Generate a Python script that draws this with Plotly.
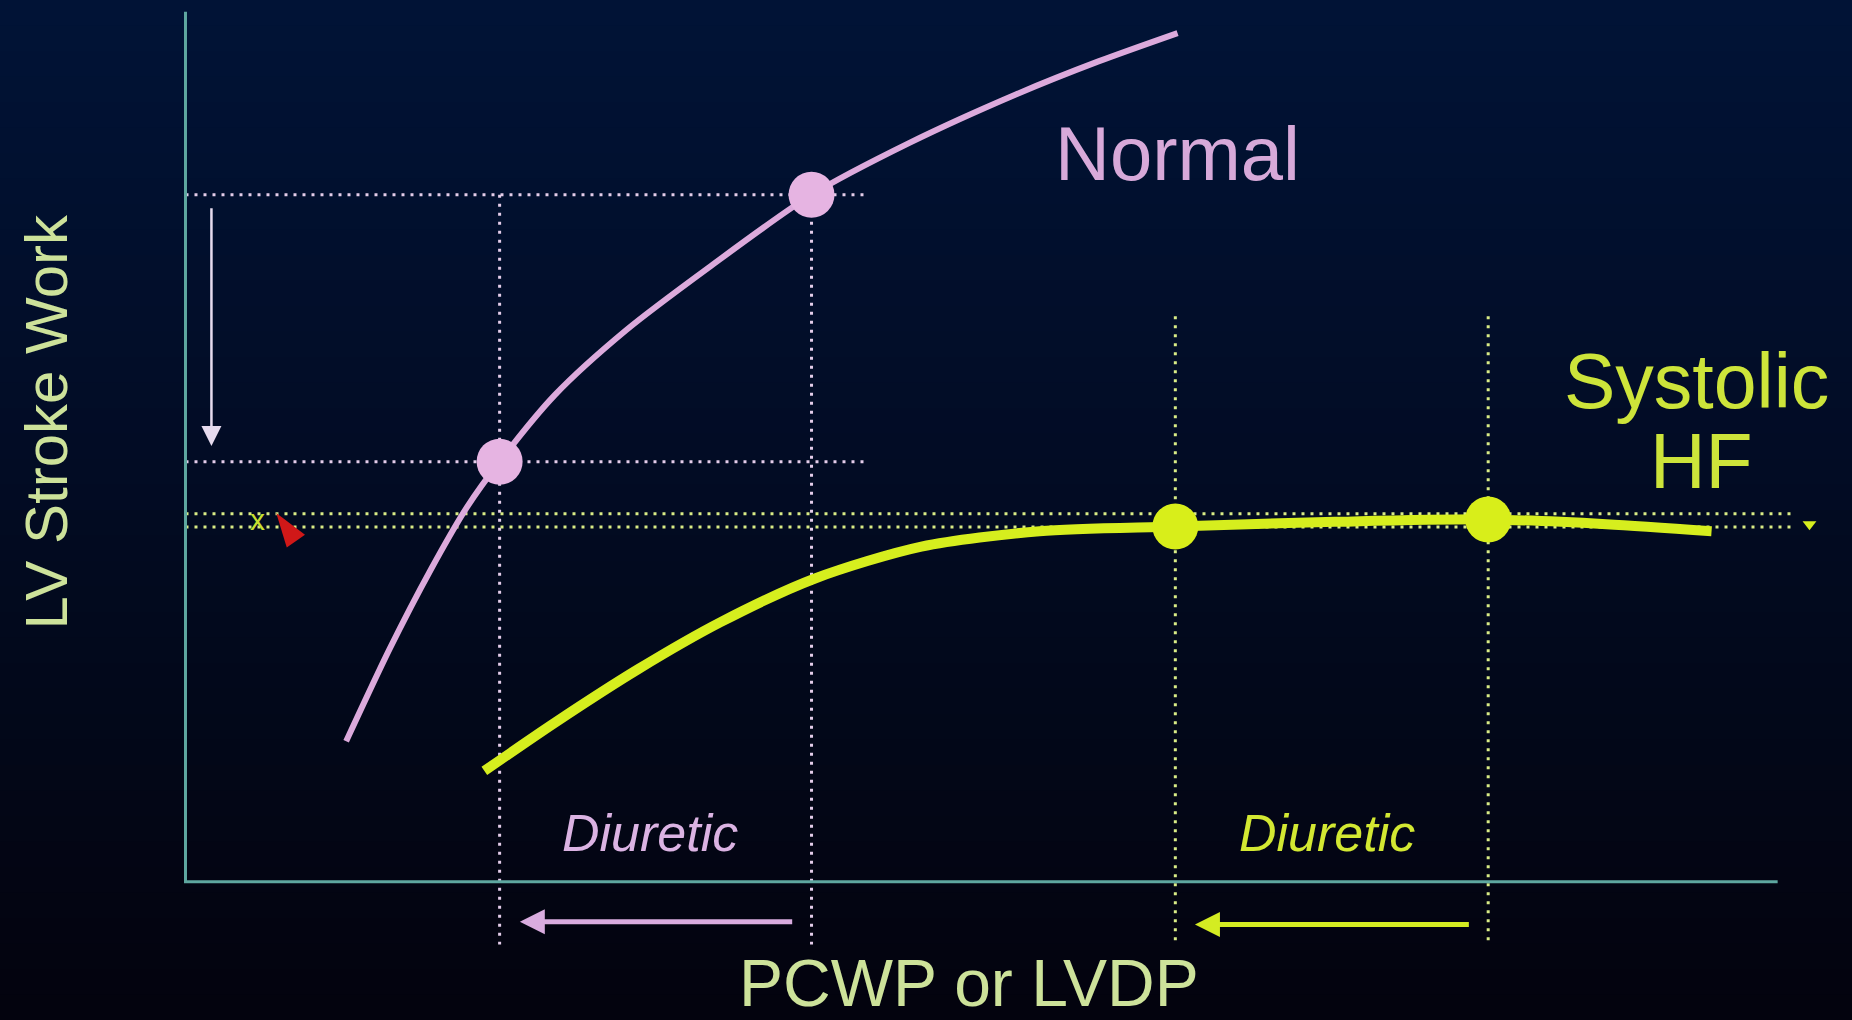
import plotly.graph_objects as go

# ---- Data (arbitrary units: x = PCWP/LVDP, y = LV stroke work) ----
normal_x = [10.09, 12.83, 15.43, 17.66, 19.73, 23.22, 27.67, 32.86, 39.32, 45.47, 52.15, 57.34, 62.31]
normal_y = [16.15, 26.80, 35.96, 43.01, 48.30, 56.00, 63.40, 70.60, 78.97, 84.94, 90.50, 94.30, 97.56]
normal_pts_x = [19.73, 39.32]
normal_pts_y = [48.30, 78.97]

hf_x = [18.77, 23.22, 28.41, 33.61, 39.54, 46.22, 53.64, 62.17, 72.18, 81.82, 89.24, 95.85]
hf_y = [12.75, 18.32, 24.42, 29.85, 34.87, 38.53, 40.30, 40.84, 41.38, 41.66, 41.11, 40.30]
hf_pts_x = [62.17, 81.82]
hf_pts_y = [40.84, 41.66]

ref_levels_normal = [78.97, 48.30]
ref_levels_hf = [42.3, 40.8]

labels = {"normal": "Normal", "hf1": "Systolic", "hf2": "HF",
          "xlab": "PCWP or LVDP", "ylab": "LV Stroke Work", "diu": "Diuretic"}

PINK = "#dcaadc"
PINK_DOT = "#e4cdea"
YEL = "#d6ee1e"
YEL_DOT = "#d9ec86"
AXIS = "#5ea7a0"
LABEL = "#cde29a"

fig = go.Figure()

# background vertical gradient
n = 40
top = (1, 19, 54)
bot = (3, 3, 14)
shapes = []
for i in range(n):
    t = i / (n - 1)
    c = tuple(int(round(top[k] + (bot[k] - top[k]) * t)) for k in range(3))
    shapes.append(dict(type="rect", xref="paper", yref="paper",
                       x0=0, x1=1, y1=1 - i / n, y0=1 - (i + 1) / n - 0.002,
                       fillcolor=f"rgb{c}", line=dict(width=0), layer="below"))

def line(xs, ys, color, width, dash=None, shape="linear"):
    fig.add_trace(go.Scatter(x=xs, y=ys, mode="lines", hoverinfo="skip",
                             line=dict(color=color, width=width, dash=dash,
                                       shape=shape, smoothing=0.8),
                             showlegend=False))

DOT = "3px,6px"
# horizontal reference lines (normal)
for yv in ref_levels_normal:
    line([0, 42.9], [yv, yv], PINK_DOT, 3, DOT)
# vertical reference lines (normal)
for xv in normal_pts_x:
    line([xv, xv], [78.97, -7.2], PINK_DOT, 3, DOT)
# horizontal reference lines (HF)
for yv in ref_levels_hf:
    line([0, 101.1], [yv, yv], YEL_DOT, 3, DOT)
# vertical reference lines (HF)
for xv in hf_pts_x:
    line([xv, xv], [65.0, -7.2], YEL_DOT, 3, DOT)

# axes
line([0, 0, 100], [100, 0, 0], AXIS, 3)

# curves
line(normal_x, normal_y, PINK, 6, shape="spline")
line(hf_x, hf_y, YEL, 10, shape="spline")

fig.add_trace(go.Scatter(x=normal_pts_x, y=normal_pts_y, mode="markers",
                         marker=dict(size=46, color="#e6b4e2"), hoverinfo="skip",
                         showlegend=False))
fig.add_trace(go.Scatter(x=hf_pts_x, y=hf_pts_y, mode="markers",
                         marker=dict(size=46, color="#d8ee1a"), hoverinfo="skip",
                         showlegend=False))
# small triangle at end of dotted line
fig.add_trace(go.Scatter(x=[102.0], y=[41.1], mode="markers",
                         marker=dict(size=12, symbol="triangle-down", color=YEL),
                         hoverinfo="skip", showlegend=False))
# pointer artefact
fig.add_trace(go.Scatter(x=[5.7], y=[42.4], mode="markers",
                         marker=dict(size=36, symbol="arrow", angle=-35, color="#d01818"),
                         hoverinfo="skip", showlegend=False))

ann = []
def text(x, y, s, size, color, italic=False):
    ann.append(dict(x=x, y=y, xref="x", yref="y", text=s, showarrow=False,
                    font=dict(family="Liberation Sans, Arial", size=size, color=color,
                              style="italic" if italic else "normal"),
                    xanchor="center", yanchor="middle"))

text(62.3, 83.7, labels["normal"], 76, "#d7a9d9")
text(94.9, 57.6, labels["hf1"], 77, "#cde43a")
text(95.2, 48.4, labels["hf2"], 77, "#cde43a")
text(49.2, -11.6, labels["xlab"], 66, LABEL)
text(29.2, 5.6, labels["diu"], 52, "#dbb3e3", True)
text(71.7, 5.6, labels["diu"], 52, "#d3e832", True)
text(4.5, 41.6, "x", 30, "#c8e030")
ann.append(dict(x=-8.7, y=52.9, xref="x", yref="y", text=labels["ylab"],
                showarrow=False, textangle=-90,
                font=dict(family="Liberation Sans, Arial", size=60, color=LABEL),
                xanchor="center", yanchor="middle"))

def arrow(x0, y0, x1, y1, color, width, size):
    ann.append(dict(x=x1, y=y1, ax=x0, ay=y0, xref="x", yref="y",
                    axref="x", ayref="y", text="", showarrow=True,
                    arrowhead=2, arrowsize=size, arrowwidth=width,
                    arrowcolor=color))

arrow(1.63, 77.6, 1.63, 50.1, "#e6dbee", 2.5, 1.6)
arrow(38.2, -4.6, 21.0, -4.6, "#d9acdf", 5, 1.0)
arrow(80.7, -4.9, 63.4, -4.9, "#d4ec22", 5, 1.0)

fig.update_layout(
    width=1852, height=1020,
    margin=dict(l=0, r=0, t=0, b=0),
    paper_bgcolor="rgb(3,3,14)", plot_bgcolor="rgba(0,0,0,0)",
    xaxis=dict(range=[-11.65, 104.67], visible=False, fixedrange=True),
    yaxis=dict(range=[-15.88, 101.36], visible=False, fixedrange=True),
    shapes=shapes, annotations=ann, showlegend=False,
)

fig.write_html("out.html", config={"displayModeBar": False},
               post_script="document.body.style.margin='0';document.body.style.overflow='hidden';document.body.style.background='rgb(3,3,14)';")
